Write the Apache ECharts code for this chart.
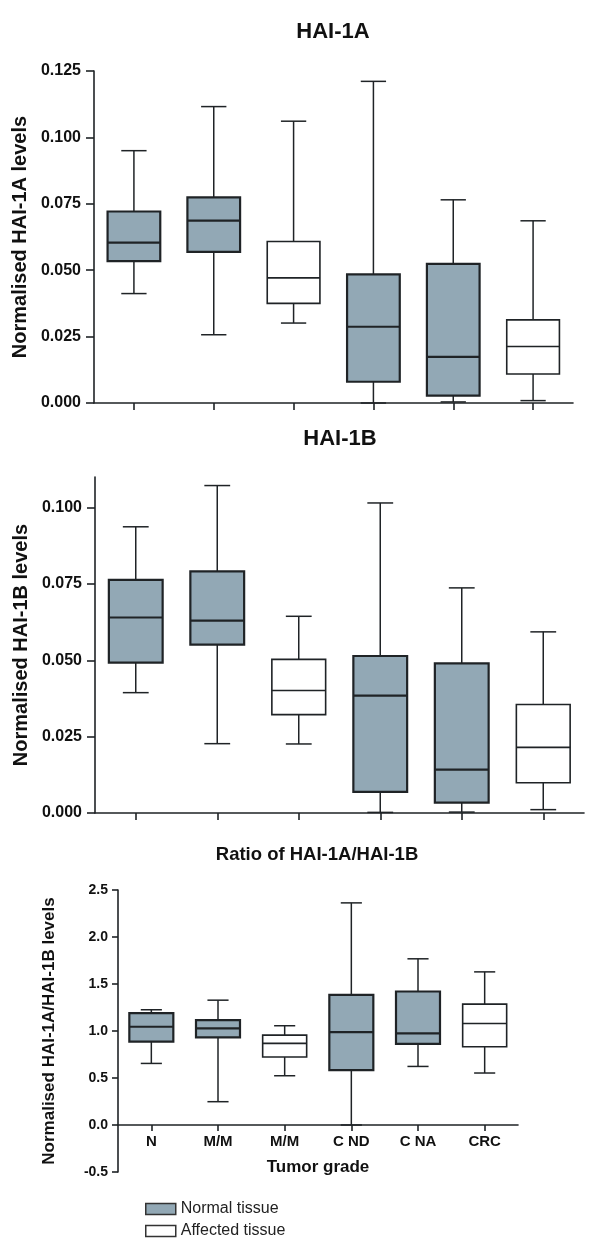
<!DOCTYPE html>
<html><head><meta charset="utf-8">
<script src="https://cdn.jsdelivr.net/npm/echarts@6/dist/echarts.min.js"></script>
<style>html,body{margin:0;padding:0;background:#fff}#c{width:600px;height:1254px}</style>
</head><body><div id="c"></div>
<script>
// ---- data ----
const categories = ['N', 'M/M', 'M/M', 'C ND', 'C NA', 'CRC'];
const tissueType = ['normal', 'normal', 'affected', 'normal', 'normal', 'affected'];
// each row: [min, Q1, median, Q3, max]
const hai1a = [
  [0.0412, 0.0534, 0.0604, 0.0721, 0.0950],
  [0.0257, 0.0569, 0.0687, 0.0774, 0.1116],
  [0.0301, 0.0375, 0.0471, 0.0608, 0.1061],
  [0.0000, 0.0080, 0.0287, 0.0484, 0.1211],
  [0.0004, 0.0028, 0.0174, 0.0524, 0.0765],
  [0.0009, 0.0109, 0.0213, 0.0313, 0.0686]
];
const hai1b = [
  [0.0394, 0.0492, 0.0640, 0.0763, 0.0937],
  [0.0227, 0.0551, 0.0630, 0.0791, 0.1072],
  [0.0226, 0.0322, 0.0401, 0.0503, 0.0644],
  [0.0002, 0.0069, 0.0384, 0.0514, 0.1015],
  [0.0003, 0.0034, 0.0142, 0.0490, 0.0737],
  [0.0011, 0.0099, 0.0215, 0.0355, 0.0593]
];
const ratio = [
  [0.655, 0.886, 1.045, 1.190, 1.226],
  [0.248, 0.932, 1.027, 1.116, 1.328],
  [0.524, 0.723, 0.868, 0.956, 1.056],
  [0.000, 0.584, 0.988, 1.385, 2.363],
  [0.623, 0.864, 0.974, 1.420, 1.768],
  [0.553, 0.832, 1.080, 1.286, 1.629]
];
const ticksA = [0, 0.025, 0.05, 0.075, 0.1, 0.125];
const ticksB = [0, 0.025, 0.05, 0.075, 0.1];
const ticksR = [-0.5, 0, 0.5, 1.0, 1.5, 2.0, 2.5];
const titles = ['HAI-1A', 'HAI-1B', 'Ratio of HAI-1A/HAI-1B'];
const yNames = ['Normalised HAI-1A levels', 'Normalised HAI-1B levels', 'Normalised HAI-1A/HAI-1B levels'];
const xName = 'Tumor grade';
const legendNames = ['Normal tissue', 'Affected tissue'];

// ---- styling ----
const FONT = 'Liberation Sans, Arial, Helvetica, sans-serif';
const FILL = '#92a8b5';
const INK = '#1f2326';

function renderBox(params, api) {
  const x = api.value(0);
  const pts = [1, 2, 3, 4, 5].map(d => api.coord([x, api.value(d)]));
  const cx = pts[0][0];
  const band = api.size([1, 0])[0];
  const bw = band * 0.66, cw = bw * 0.48;
  const normal = params.seriesName === legendNames[0];
  const ws = { stroke: INK, lineWidth: 1.5 };
  const bs = { stroke: INK, lineWidth: normal ? 2.2 : 1.6 };
  const [pMin, pQ1, pMed, pQ3, pMax] = pts;
  return {
    type: 'group', children: [
      { type: 'line', shape: { x1: cx, y1: pMax[1], x2: cx, y2: pQ3[1] }, style: ws },
      { type: 'line', shape: { x1: cx, y1: pQ1[1], x2: cx, y2: pMin[1] }, style: ws },
      { type: 'line', shape: { x1: cx - cw / 2, y1: pMax[1], x2: cx + cw / 2, y2: pMax[1] }, style: ws },
      { type: 'line', shape: { x1: cx - cw / 2, y1: pMin[1], x2: cx + cw / 2, y2: pMin[1] }, style: ws },
      { type: 'rect', shape: { x: cx - bw / 2, y: pQ3[1], width: bw, height: pQ1[1] - pQ3[1] },
        style: { fill: normal ? FILL : '#ffffff', stroke: INK, lineWidth: normal ? 2.2 : 1.6 } },
      { type: 'line', shape: { x1: cx - bw / 2, y1: pMed[1], x2: cx + bw / 2, y2: pMed[1] }, style: bs }
    ]
  };
}

function seriesData(stats, kind) {
  const out = [];
  stats.forEach((s, i) => { if (tissueType[i] === kind) out.push([i].concat(s)); });
  return out;
}

const datasets = [hai1a, hai1b, ratio];
const grids = [
  { left: 94, top: 71, width: 479, height: 332 },
  { left: 95, top: 477, width: 489, height: 336 },
  { left: 118, top: 890, width: 400, height: 282 }
];
const axisLineStyle = { color: INK, width: 1.6 };
// chart 3: x axis sits at value 0, one interval above the bottom of the y range
const ratioAxisOffset = -grids[2].height * (0 - ticksR[0]) / (ticksR[ticksR.length - 1] - ticksR[0]);

const xAxes = grids.map((g, k) => ({
  type: 'category', gridIndex: k, data: categories, boundaryGap: true,
  position: 'bottom', offset: k === 2 ? ratioAxisOffset : 0,
  axisLine: { show: true, onZero: false, lineStyle: axisLineStyle },
  axisTick: { show: true, alignWithLabel: true, length: k === 2 ? 6 : 7, lineStyle: axisLineStyle },
  axisLabel: { show: k === 2, interval: 0, margin: 9, fontSize: 15, fontWeight: 'bold', color: '#111', fontFamily: FONT },
  name: k === 2 ? xName : '', nameLocation: 'middle', nameGap: 34,
  nameTextStyle: { fontSize: 17, fontWeight: 'bold', color: '#111', fontFamily: FONT },
  splitLine: { show: false }
}));

const yAxes = [
  {
    type: 'value', gridIndex: 0, min: 0, max: 0.125, interval: 0.025,
    axisLabel: { margin: 13, fontSize: 16, fontWeight: 'bold', color: '#111', fontFamily: FONT, formatter: v => v.toFixed(3) },
    axisTick: { show: true, length: 8, lineStyle: axisLineStyle },
    name: yNames[0], nameGap: 61, nameTextStyle: { fontSize: 20 }
  },
  {
    type: 'value', gridIndex: 1, min: 0, max: 0.11, interval: 0.025,
    axisLabel: { margin: 13, fontSize: 16, fontWeight: 'bold', color: '#111', fontFamily: FONT, formatter: v => v.toFixed(3), customValues: ticksB },
    axisTick: { show: true, length: 8, lineStyle: axisLineStyle, customValues: ticksB },
    name: yNames[1], nameGap: 63, nameTextStyle: { fontSize: 20 }
  },
  {
    type: 'value', gridIndex: 2, min: ticksR[0], max: ticksR[ticksR.length - 1], interval: 0.5,
    axisLabel: { margin: 10, fontSize: 14, fontWeight: 'bold', color: '#111', fontFamily: FONT, formatter: v => v.toFixed(1) },
    axisTick: { show: true, length: 6, lineStyle: axisLineStyle },
    name: yNames[2], nameGap: 60, nameTextStyle: { fontSize: 17 }
  }
].map(a => Object.assign(a, {
  axisLine: { show: true, onZero: false, lineStyle: axisLineStyle },
  splitLine: { show: false },
  nameLocation: 'middle', nameRotate: 90,
  nameTextStyle: Object.assign({ fontWeight: 'bold', color: '#111', fontFamily: FONT }, a.nameTextStyle)
}));

const series = [];
datasets.forEach((stats, k) => {
  ['normal', 'affected'].forEach((kind, j) => {
    series.push({
      type: 'custom', name: legendNames[j], xAxisIndex: k, yAxisIndex: k,
      renderItem: renderBox,
      itemStyle: { color: j === 0 ? FILL : '#ffffff', borderColor: INK },
      encode: { x: 0, y: [1, 2, 3, 4, 5] },
      data: seriesData(stats, kind),
      z: 3
    });
  });
});

const chart = echarts.init(document.getElementById('c'), null, { renderer: 'canvas' });
chart.setOption({
  backgroundColor: '#ffffff',
  animation: false,
  title: [
    { text: titles[0], left: 333, top: 21, textAlign: 'center', padding: 0, textStyle: { fontSize: 22, fontWeight: 'bold', color: '#111', fontFamily: FONT } },
    { text: titles[1], left: 340, top: 428, textAlign: 'center', padding: 0, textStyle: { fontSize: 22, fontWeight: 'bold', color: '#111', fontFamily: FONT } },
    { text: titles[2], left: 317, top: 845, textAlign: 'center', padding: 0, textStyle: { fontSize: 18.5, fontWeight: 'bold', color: '#111', fontFamily: FONT } }
  ],
  legend: {
    orient: 'vertical', left: 145, top: 1201, padding: 0,
    itemWidth: 30, itemHeight: 11, itemGap: 6, selectedMode: false,
    textStyle: { fontSize: 16, color: '#222', fontFamily: FONT },
    data: [
      { name: legendNames[0], icon: 'rect', itemStyle: { color: FILL, borderColor: '#333', borderWidth: 1.5 } },
      { name: legendNames[1], icon: 'rect', itemStyle: { color: '#ffffff', borderColor: '#333', borderWidth: 1.5 } }
    ]
  },
  grid: grids,
  xAxis: xAxes,
  yAxis: yAxes,
  series: series
});
</script>
</body></html>
